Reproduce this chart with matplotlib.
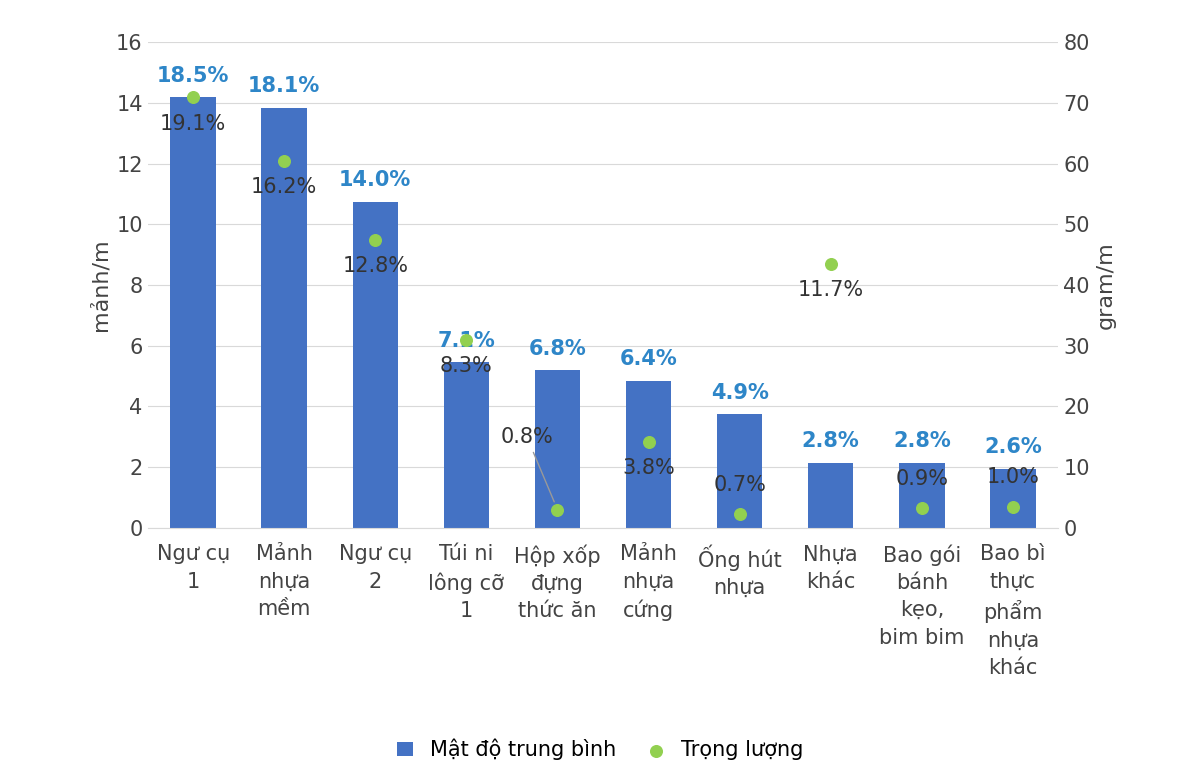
import matplotlib.pyplot as plt
import numpy as np

categories = ["Ngư cụ\n1", "Mảnh\nnhựa\nmềm", "Ngư cụ\n2", "Túi ni\nlông cỡ\n1", "Hộp xốp\nđựng\nthức ăn",
              "Mảnh\nnhựa\ncứng", "Ống hút\nnhựa", "Nhựa\nkhác", "Bao gói\nbánh\nkẹo,\nbim bim",
              "Bao bì\nthực\nphẩm\nnhựa\nkhác"]
density = [14.2, 13.85, 10.75, 5.45, 5.2, 4.85, 3.75, 2.15, 2.15, 1.95]
weight = [71, 60.5, 47.5, 31, 3, 14.2, 2.2, 43.5, 3.2, 3.5]
density_pct = ["18.5%", "18.1%", "14.0%", "7.1%", "6.8%", "6.4%", "4.9%", "2.8%", "2.8%", "2.6%"]
weight_pct = ["19.1%", "16.2%", "12.8%", "8.3%", "0.8%", "3.8%", "0.7%", "11.7%", "0.9%", "1.0%"]

fig = plt.figure(figsize=(12, 7.83), dpi=100)
ax = fig.add_axes([0.123, 0.326, 0.759, 0.62])
ax2 = ax.twinx()
x = np.arange(len(categories))
ax.bar(x, density, width=0.5, color="#4472C4", zorder=2, label="Mật độ trung bình")
ax2.scatter(x, weight, s=70, color="#92D050", zorder=3, label="Trọng lượng")

ax.set_ylim(0, 16)
ax.set_yticks(range(0, 17, 2))
ax2.set_ylim(0, 80)
ax2.set_yticks(range(0, 81, 10))
ax.set_xlim(-0.5, len(x) - 0.5)
ax.set_xticks(x)
ax.set_xticklabels(categories, fontsize=15, color="#333333", va="top", linespacing=1.45)
ax.grid(axis="y", color="#d9d9d9", zorder=0)
ax.set_axisbelow(True)
for a in (ax, ax2):
    for s in a.spines.values():
        s.set_visible(False)
    a.tick_params(length=0, labelsize=15, labelcolor="#444444")
ax.spines["bottom"].set_visible(True)
ax.spines["bottom"].set_color("#d9d9d9")
ax.tick_params(axis="x", pad=12)
ax.set_ylabel("mảnh/m", fontsize=16, color="#444444")
ax2.set_ylabel("gram/m", fontsize=16, color="#444444")

for i in x:
    ax.annotate(density_pct[i], (i, density[i]), xytext=(0, 8), textcoords="offset points",
                ha="center", va="bottom", color="#2E86C8", fontsize=15, fontweight="bold")
    if i == 4:
        ax2.annotate(weight_pct[i], (i, weight[i]), xytext=(-22, 45), textcoords="offset points",
                     ha="center", va="bottom", color="#333333", fontsize=15,
                     arrowprops=dict(arrowstyle="-", color="#999999", shrinkA=2, shrinkB=6))
    elif i in (6, 8, 9):
        ax2.annotate(weight_pct[i], (i, weight[i]), xytext=(0, 14), textcoords="offset points",
                     ha="center", va="bottom", color="#333333", fontsize=15)
    else:
        ax2.annotate(weight_pct[i], (i, weight[i]), xytext=(0, -12), textcoords="offset points",
                     ha="center", va="top", color="#333333", fontsize=15)

h1, l1 = ax.get_legend_handles_labels()
h2, l2 = ax2.get_legend_handles_labels()
fig.legend(h1 + h2, l1 + l2, loc="lower center", bbox_to_anchor=(0.5, 0.005), ncol=2,
           frameon=False, fontsize=15, handlelength=0.8, columnspacing=1.5)
fig.savefig("out.png")
